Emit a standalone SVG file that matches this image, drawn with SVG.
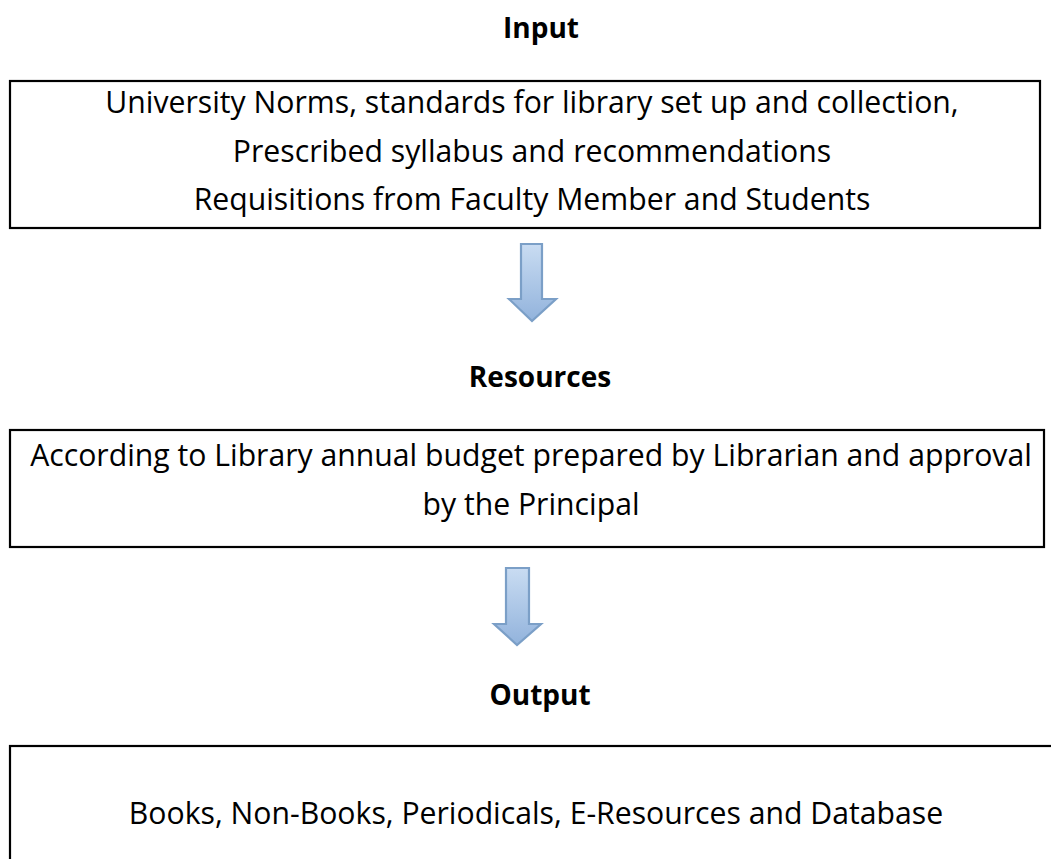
<svg xmlns="http://www.w3.org/2000/svg" width="1051" height="859" viewBox="0 0 1051 859">
  <style>
    .box { fill: #ffffff; stroke: #000000; stroke-width: 2.2; }
    .txt { font-family: "Open Sans", "Noto Sans", "Liberation Sans", sans-serif; font-size: 30.2px; fill: #000000; text-anchor: middle; }
    .head { font-family: "Open Sans", "Noto Sans", "Liberation Sans", sans-serif; font-size: 28px; font-weight: bold; fill: #000000; text-anchor: middle; }
    .arrow { fill: url(#arrowFill); stroke: #7b9fc7; stroke-width: 2.2; stroke-linejoin: miter; }
  </style>
  <defs>
    <linearGradient id="arrowFill" x1="0" y1="0" x2="0" y2="1">
      <stop offset="0" stop-color="#c9dcf2"/>
      <stop offset="1" stop-color="#92b3dc"/>
    </linearGradient>
  </defs>
  <rect x="0" y="0" width="1051" height="859" fill="#ffffff"/>

  <!-- section headings -->
  <text class="head" x="541" y="38">Input</text>
  <text class="head" x="540" y="387">Resources</text>
  <text class="head" x="540" y="705">Output</text>

  <g id="input">
    <rect class="box" x="10" y="81" width="1030" height="147"/>
    <text class="txt" x="532" y="113">University Norms, standards for library set up and collection,</text>
    <text class="txt" x="532" y="161.5">Prescribed syllabus and recommendations</text>
    <text class="txt" x="532" y="210">Requisitions from Faculty Member and Students</text>
  </g>

  <g id="resources">
    <rect class="box" x="10" y="430" width="1034" height="117"/>
    <text class="txt" x="531" y="466">According to Library annual budget prepared by Librarian and approval</text>
    <text class="txt" x="531" y="514.5">by the Principal</text>
  </g>

  <g id="output">
    <rect class="box" x="10" y="746" width="1060" height="140"/>
    <text class="txt" x="536" y="824">Books, Non-Books, Periodicals, E-Resources and Database</text>
  </g>

  <g id="connectors">
    <path class="arrow" d="M521,244 H542 V299 H556 L532,321 L509,299 H521 Z"/>
    <path class="arrow" d="M506,568 H529 V624 H541 L517,645 L494,624 H506 Z"/>
  </g>
</svg>
